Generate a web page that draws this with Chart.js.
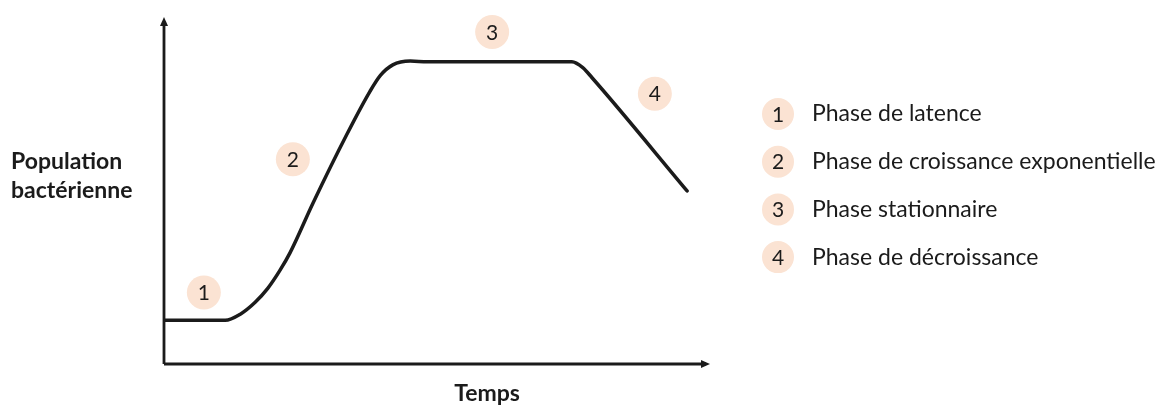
<!DOCTYPE html>
<html>
<head>
<meta charset="utf-8">
<script src="https://cdn.jsdelivr.net/npm/chart.js@4"></script>
<style>
  html, body { margin: 0; padding: 0; background: #fff; }
  #wrap { width: 1164px; height: 406px; }
</style>
</head>
<body>
<div id="wrap"><canvas id="growth-curve"></canvas></div>
<script>
// curve (time 0-100, population 0-100)
var timeValues = [0, 11.2, 13.9, 16.7, 19.0, 21.2, 23.1, 27.3, 33.5, 37.7, 39.6, 41.9, 45.1, 48.2, 74.7, 76.7, 78.4, 95.8];
var populationValues = [12.6, 12.6, 14.3, 17.8, 21.8, 26.9, 32.1, 46.4, 66.2, 78.5, 83.1, 86.2, 87.3, 87.1, 87.1, 85.4, 82.5, 49.9];

// numbered phase markers
var markerX = [7.3, 23.6, 60.1, 89.9];
var markerY = [20.6, 59.0, 95.7, 77.9];
var markerLabels = ['1', '2', '3', '4'];

var phaseNames = [
  'Phase de latence',
  'Phase de croissance exponentielle',
  'Phase stationnaire',
  'Phase de décroissance'
];
var yAxisLabel = ['Population', 'bactérienne'];
var xAxisLabel = 'Temps';

var peach = '#fbe3d3';
var ink = '#1b1b1b';
var textFont = 'Lato, "Open Sans", sans-serif';

function toPoints(xs, ys) {
  return xs.map(function(x, i) { return { x: x, y: ys[i] }; });
}

var decorations = {
  id: 'decorations',
  afterDatasetsDraw: function(chart) {
    var ctx = chart.ctx;
    var xs = chart.scales.x, ys = chart.scales.y;
    var x0 = xs.getPixelForValue(0), y0 = ys.getPixelForValue(0);
    var xEnd = xs.getPixelForValue(100), yTop = ys.getPixelForValue(100);

    ctx.save();
    // axes with arrow heads
    ctx.strokeStyle = ink;
    ctx.fillStyle = ink;
    ctx.lineWidth = 2.8;
    ctx.beginPath();
    ctx.moveTo(x0, y0);
    ctx.lineTo(x0, yTop + 4);
    ctx.moveTo(x0, y0);
    ctx.lineTo(xEnd - 4, y0);
    ctx.stroke();
    ctx.beginPath();
    ctx.moveTo(x0, yTop);
    ctx.lineTo(x0 - 4, yTop + 9);
    ctx.lineTo(x0 + 4, yTop + 9);
    ctx.closePath();
    ctx.fill();
    ctx.beginPath();
    ctx.moveTo(xEnd, y0);
    ctx.lineTo(xEnd - 9, y0 - 4);
    ctx.lineTo(xEnd - 9, y0 + 4);
    ctx.closePath();
    ctx.fill();

    // numbers inside phase markers
    var meta = chart.getDatasetMeta(1);
    ctx.font = '21px ' + textFont;
    ctx.textAlign = 'center';
    ctx.textBaseline = 'middle';
    meta.data.forEach(function(pt, i) {
      ctx.fillText(markerLabels[i], pt.x, pt.y + 1);
    });

    // axis titles
    ctx.font = 'bold 23px ' + textFont;
    ctx.textAlign = 'left';
    ctx.fillText(yAxisLabel[0], 11, 162);
    ctx.fillText(yAxisLabel[1], 11, 191);
    ctx.textAlign = 'center';
    ctx.fillText(xAxisLabel, 487, 394);

    // legend
    phaseNames.forEach(function(name, i) {
      var cy = 114 + i * 47.7;
      ctx.fillStyle = peach;
      ctx.beginPath();
      ctx.arc(778, cy, 16, 0, Math.PI * 2);
      ctx.fill();
      ctx.fillStyle = ink;
      ctx.font = '21px ' + textFont;
      ctx.textAlign = 'center';
      ctx.fillText(markerLabels[i], 778, cy + 1);
      ctx.font = '23px ' + textFont;
      ctx.textAlign = 'left';
      ctx.fillText(name, 812, cy);
    });
    ctx.restore();
  }
};

var chart = new Chart(document.getElementById('growth-curve'), {
  type: 'line',
  data: {
    datasets: [
      {
        label: 'Population',
        data: toPoints(timeValues, populationValues),
        borderColor: ink,
        borderWidth: 3.5,
        borderCapStyle: 'round',
        borderJoinStyle: 'round',
        cubicInterpolationMode: 'monotone',
        pointRadius: 0,
        fill: false,
        order: 1
      },
      {
        label: 'Phases',
        data: toPoints(markerX, markerY),
        showLine: false,
        pointRadius: 17,
        pointBackgroundColor: peach,
        pointBorderWidth: 0,
        clip: false,
        order: 2
      }
    ]
  },
  options: {
    responsive: true,
    maintainAspectRatio: false,
    animation: false,
    layout: { padding: { left: 164, right: 454, top: 15, bottom: 42 } },
    plugins: {
      legend: { display: false },
      tooltip: { enabled: false }
    },
    scales: {
      x: { type: 'linear', min: 0, max: 100, display: false },
      y: { min: 0, max: 100, display: false }
    }
  },
  plugins: [decorations]
});
</script>
</body>
</html>
